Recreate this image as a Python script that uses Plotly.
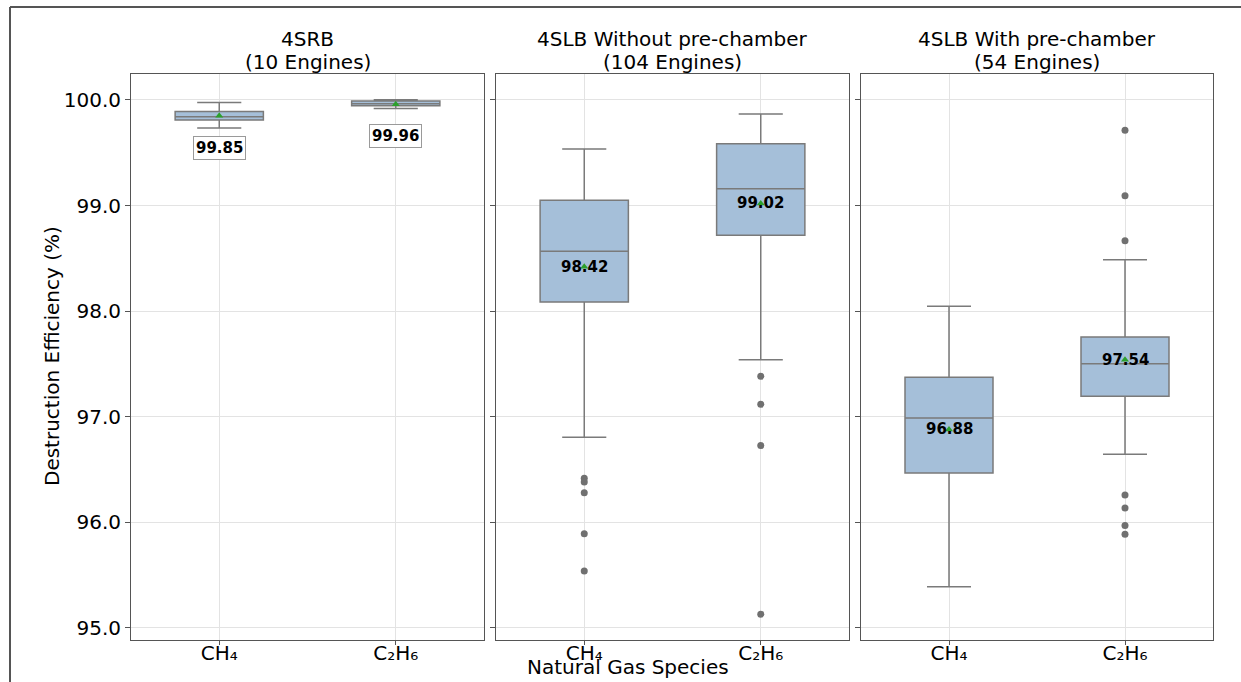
import plotly.graph_objects as go

W, H = 1241, 682

group_names = ["4SRB", "4SLB Without pre-chamber", "4SLB With pre-chamber"]
engine_counts = [10, 104, 54]
species = ["CH₄", "C₂H₆"]

lower = [[99.735, 99.92], [96.806, 97.54], [95.391, 96.645]]
q1 = [[99.81, 99.946], [98.087, 98.72], [96.468, 97.194]]
median = [[99.84, 99.965], [98.567, 99.16], [96.989, 97.503]]
q3 = [[99.89, 99.99], [99.05, 99.586], [97.374, 97.756]]
upper = [[99.975, 100.003], [99.536, 99.867], [98.046, 98.488]]
means = [[99.85, 99.96], [98.42, 99.02], [96.88, 97.54]]

outliers = [
    [[], []],
    [[96.417, 96.383, 96.28, 95.893, 95.54], [97.383, 97.118, 96.727, 95.13]],
    [[], [99.713, 99.094, 98.668, 96.26, 96.136, 95.97, 95.887]],
]

yticks = [95.0, 96.0, 97.0, 98.0, 99.0, 100.0]

# layout in pixels
panels_px = [(131, 484), (496, 849), (861, 1213)]
top_px, bot_px = 74, 640

FONT = "DejaVu Sans"
FS = 20
BOXFILL = "#a5bfd9"
LINEC = "#7a7a7a"
GRID = "#e3e3e3"
AXC = "#555555"

fig = go.Figure()
layout = dict(
    width=W, height=H,
    margin=dict(l=0, r=0, t=0, b=0),
    paper_bgcolor="white", plot_bgcolor="white",
    showlegend=False,
    font=dict(family=FONT, size=FS, color="black"),
)

ydom = [(H - bot_px) / H, (H - top_px) / H]
annotations = []
for i in range(3):
    ax = "" if i == 0 else str(i + 1)
    xr = "x" + ax
    yr = "y" + ax
    fig.add_trace(go.Box(
        x=species, q1=q1[i], median=median[i], q3=q3[i],
        lowerfence=lower[i], upperfence=upper[i],
        fillcolor=BOXFILL, line=dict(color=LINEC, width=1.5),
        width=0.5, whiskerwidth=0.5, boxpoints=False,
        xaxis=xr, yaxis=yr, hoverinfo="skip",
    ))
    for j, sp in enumerate(species):
        if outliers[i][j]:
            fig.add_trace(go.Scatter(
                x=[sp] * len(outliers[i][j]), y=outliers[i][j], mode="markers",
                marker=dict(color="#707070", size=7),
                xaxis=xr, yaxis=yr, hoverinfo="skip",
            ))
    fig.add_trace(go.Scatter(
        x=species, y=means[i], mode="markers",
        marker=dict(symbol="triangle-up", color="#2ca02c", size=7),
        xaxis=xr, yaxis=yr, hoverinfo="skip",
    ))
    for j, sp in enumerate(species):
        if i == 0:
            annotations.append(dict(
                x=sp, y=means[i][j] - 0.3, xref=xr, yref=yr,
                text="<b>%.2f</b>" % means[i][j], showarrow=False,
                font=dict(family=FONT, size=15, color="black"),
                bgcolor="white", bordercolor="#9a9a9a", borderwidth=1, borderpad=2,
            ))
        else:
            annotations.append(dict(
                x=sp, y=means[i][j], xref=xr, yref=yr,
                text="<b>%.2f</b>" % means[i][j], showarrow=False,
                font=dict(family=FONT, size=15, color="black"),
            ))
    x0, x1 = panels_px[i]
    layout["xaxis" + ax] = dict(
        domain=[x0 / W, x1 / W], anchor=yr,
        type="category", categoryorder="array", categoryarray=species,
        range=[-0.5, 1.5],
        showline=True, mirror=True, linecolor=AXC, linewidth=1,
        showgrid=True, gridcolor=GRID, gridwidth=1,
        ticks="outside", ticklen=4, tickcolor=AXC,
        ticklabelstandoff=-9,
        tickfont=dict(family=FONT, size=FS), zeroline=False,
    )
    layout["yaxis" + ax] = dict(
        domain=ydom, anchor=xr,
        range=[94.886, 100.246],
        tickvals=yticks, ticktext=["%.1f" % v for v in yticks],
        showticklabels=(i == 0),
        showline=True, mirror=True, linecolor=AXC, linewidth=1,
        showgrid=True, gridcolor=GRID, gridwidth=1,
        ticks="outside", ticklen=5, tickcolor=AXC,
        tickfont=dict(family=FONT, size=FS), zeroline=False,
    )
    if i > 0:
        layout["yaxis" + ax]["matches"] = "y"
    xc = (x0 + x1) / 2 / W
    annotations.append(dict(
        x=xc, y=(H - 39) / H, xref="paper", yref="paper",
        xanchor="center", yanchor="middle", text=group_names[i], showarrow=False,
        font=dict(family=FONT, size=FS, color="black"),
    ))
    annotations.append(dict(
        x=xc, y=(H - 62) / H, xref="paper", yref="paper",
        xanchor="center", yanchor="middle",
        text="(%d Engines)" % engine_counts[i], showarrow=False,
        font=dict(family=FONT, size=FS, color="black"),
    ))

annotations.append(dict(
    x=628 / W, y=(H - 667) / H, xref="paper", yref="paper",
    xanchor="center", yanchor="middle", text="Natural Gas Species", showarrow=False,
    font=dict(family=FONT, size=FS, color="black"),
))
annotations.append(dict(
    x=52 / W, y=(H - 356) / H, xref="paper", yref="paper",
    xanchor="center", yanchor="middle", text="Destruction Efficiency (%)",
    textangle=-90, showarrow=False,
    font=dict(family=FONT, size=FS, color="black"),
))

layout["annotations"] = annotations
layout["shapes"] = [
    dict(type="line", xref="paper", yref="paper",
         x0=10 / W, x1=1.0, y0=(H - 7) / H, y1=(H - 7) / H,
         line=dict(color="#555555", width=2)),
    dict(type="line", xref="paper", yref="paper",
         x0=10 / W, x1=10 / W, y0=0, y1=(H - 7) / H,
         line=dict(color="#555555", width=2)),
]
fig.update_layout(**layout)
fig.write_html("out.html")
